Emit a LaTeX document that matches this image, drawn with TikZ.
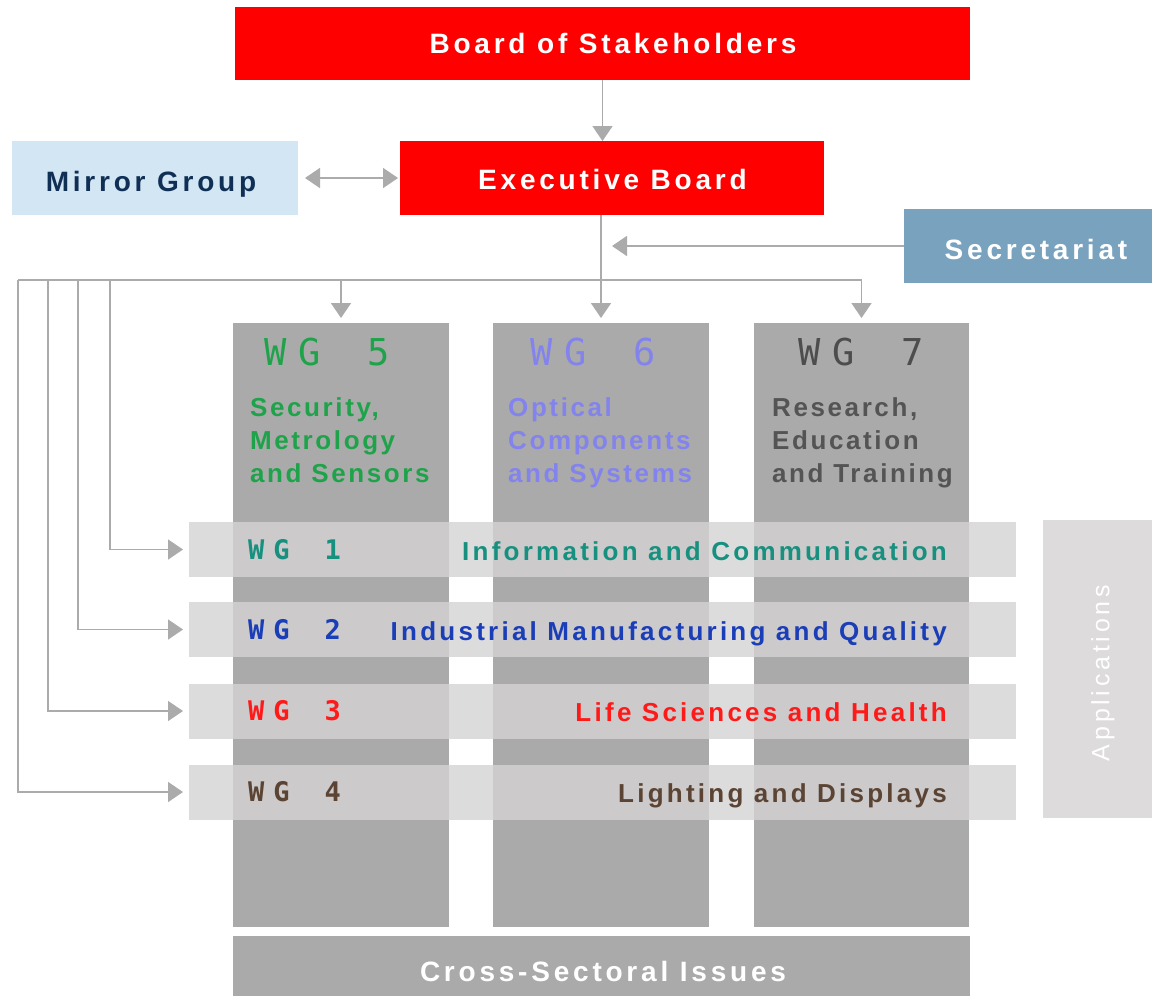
\documentclass[tikz,border=0pt]{standalone}
\usepackage{fontspec}
\setmainfont{Liberation Sans}
\newfontfamily\hdfont[LetterSpace=13.5]{Liberation Sans}
\newfontfamily\bodyfont[LetterSpace=10]{Liberation Sans}
\newfontfamily\bandfont[LetterSpace=12.5]{Liberation Sans}
\newfontfamily\appfont[LetterSpace=15]{Liberation Sans}
\newfontfamily\wgfont[LetterSpace=33]{DejaVu Sans Mono}
\usetikzlibrary{arrows.meta}
\definecolor{redbox}{HTML}{FE0000}
\definecolor{mirrorfill}{HTML}{D3E6F4}
\definecolor{mirrortext}{HTML}{0F2F55}
\definecolor{secrfill}{HTML}{79A2BF}
\definecolor{colgray}{HTML}{AAAAAA}
\definecolor{bandgray}{HTML}{D5D3D3}
\definecolor{appfill}{HTML}{DDDBDB}
\definecolor{conncol}{HTML}{ABABAB}
\definecolor{wgfive}{HTML}{1FA34A}
\definecolor{wgsix}{HTML}{8383EE}
\definecolor{wgseven}{HTML}{4D4D4D}
\definecolor{wgseventxt}{HTML}{545454}
\definecolor{wgone}{HTML}{17907F}
\definecolor{wgtwo}{HTML}{1A3DB8}
\definecolor{wgthree}{HTML}{FF1A1A}
\definecolor{wgfour}{HTML}{5B4434}
\begin{document}
\begin{tikzpicture}[x=1pt,y=-1pt,
  box/.style={rectangle, inner sep=0pt, outer sep=0pt, draw=none},
  hdtxt/.style={inner sep=0pt, anchor=base, font=\hdfont\bfseries\fontsize{28}{32}\selectfont},
  coltxt/.style={inner sep=0pt, anchor=north west, align=left, font=\bodyfont\bfseries\fontsize{26}{33}\selectfont},
  bandtxt/.style={inner sep=0pt, anchor=base east, font=\bandfont\bfseries\fontsize{26}{30}\selectfont},
  wgbig/.style={inner sep=0pt, anchor=base west, font=\wgfont\fontsize{37}{40}\selectfont},
  wgsmall/.style={inner sep=0pt, anchor=base west, font=\wgfont\bfseries\fontsize{27}{30}\selectfont},
  column/.style={box, fill=colgray, minimum width=216pt, minimum height=604pt},
  band/.style={box, fill=bandgray, fill opacity=0.8, minimum width=827pt, minimum height=55pt},
  line/.style={draw=conncol, line width=1.6pt},
  conn/.style={line, -{Triangle[length=15pt,width=20pt]}},
  dconn/.style={line, {Triangle[length=15pt,width=20pt]}-{Triangle[length=15pt,width=20pt]}}
]
\useasboundingbox (0,0) rectangle (1152,996);
% top boxes
\node[box, fill=redbox, minimum width=735pt, minimum height=73pt] (board) at (602.5,43.5) {};
\node[hdtxt, text=white] (boardtxt) at (613,53) {Board of Stakeholders};
\node[box, fill=redbox, minimum width=424pt, minimum height=74pt] (exec) at (612,178) {};
\node[hdtxt, text=white] (exectxt) at (612.5,189.5) {Executive Board};
\node[box, fill=mirrorfill, minimum width=286pt, minimum height=74pt] (mirror) at (155,178) {};
\node[hdtxt, text=mirrortext] (mirrortxt) at (151,191.5) {Mirror Group};
\node[box, fill=secrfill, minimum width=256pt, minimum height=74pt] (secr) at (1032,246) {};
\node[hdtxt, text=white] (secrtxt) at (1036,259) {Secretariat};
% columns
\node[column] (wg5col) at (341,625) {};
\node[column] (wg6col) at (601,625) {};
\node[column, minimum width=215pt] (wg7col) at (861.5,625) {};
\node[wgbig, text=wgfive] (wg5lab) at (264,365) {WG\hspace{47pt}5};
\node[wgbig, text=wgsix] (wg6lab) at (530,365) {WG\hspace{47pt}6};
\node[wgbig, text=wgseven] (wg7lab) at (798,365) {WG\hspace{47pt}7};
\node[coltxt, text=wgfive] (wg5txt) at (250,397) {Security,\\Metrology\\and Sensors};
\node[coltxt, text=wgsix] (wg6txt) at (508,397) {Optical\\Components\\and Systems};
\node[coltxt, text=wgseventxt] (wg7txt) at (772,397) {Research,\\Education\\and Training};
% bands
\node[band] (band1) at (602.5,549.5) {};
\node[band] (band2) at (602.5,629.5) {};
\node[band] (band3) at (602.5,711) {};
\node[band] (band4) at (602.5,792) {};
\node[wgsmall, text=wgone] (wg1lab) at (248,559) {WG\hspace{35pt}1};
\node[wgsmall, text=wgtwo] (wg2lab) at (248,639) {WG\hspace{35pt}2};
\node[wgsmall, text=wgthree] (wg3lab) at (248,720.5) {WG\hspace{35pt}3};
\node[wgsmall, text=wgfour] (wg4lab) at (248,801.5) {WG\hspace{35pt}4};
\node[bandtxt, text=wgone] (wg1txt) at (947,560) {Information and Communication};
\node[bandtxt, text=wgtwo] (wg2txt) at (947,640) {Industrial Manufacturing and Quality};
\node[bandtxt, text=wgthree] (wg3txt) at (947,721.5) {Life Sciences and Health};
\node[bandtxt, text=wgfour] (wg4txt) at (947,802.5) {Lighting and Displays};
% applications
\node[box, fill=appfill, minimum width=109pt, minimum height=298pt] (apps) at (1097.5,669) {};
\node[inner sep=0pt, rotate=90, text=white, font=\appfont\fontsize{25}{30}\selectfont] (appstxt) at (1103,673) {Applications};
% cross-sectoral
\node[box, fill=colgray, minimum width=737pt, minimum height=64pt] (cross) at (601.5,968) {};
\node[hdtxt, text=white] (crosstxt) at (603,981.5) {Cross-Sectoral Issues};
% connectors
\coordinate (l4) at (18,280);
\coordinate (l3) at (48,280);
\coordinate (l2) at (78,280);
\coordinate (l1) at (110,280);
\draw[conn] (board.south) -- (board.south |- exec.north);
\draw[dconn, shorten <=7pt, shorten >=2pt] (mirror.east) -- (exec.west);
\draw[conn, shorten >=5pt] (wg6col.north |- exec.south) -- (wg6col.north);
\draw[conn, shorten >=11pt] (secr.west) -- (secr.west -| wg6col.north);
\draw[line] (l4) -- (l4 -| wg7col.north);
\draw[conn, shorten >=5pt] (l4 -| wg5col.north) -- (wg5col.north);
\draw[conn, shorten >=5pt] (l4 -| wg7col.north) -- (wg7col.north);
\draw[conn, shorten >=6pt] (l1) |- (band1.west);
\draw[conn, shorten >=6pt] (l2) |- (band2.west);
\draw[conn, shorten >=6pt] (l3) |- (band3.west);
\draw[conn, shorten >=6pt] (l4) |- (band4.west);
\end{tikzpicture}
\end{document}
